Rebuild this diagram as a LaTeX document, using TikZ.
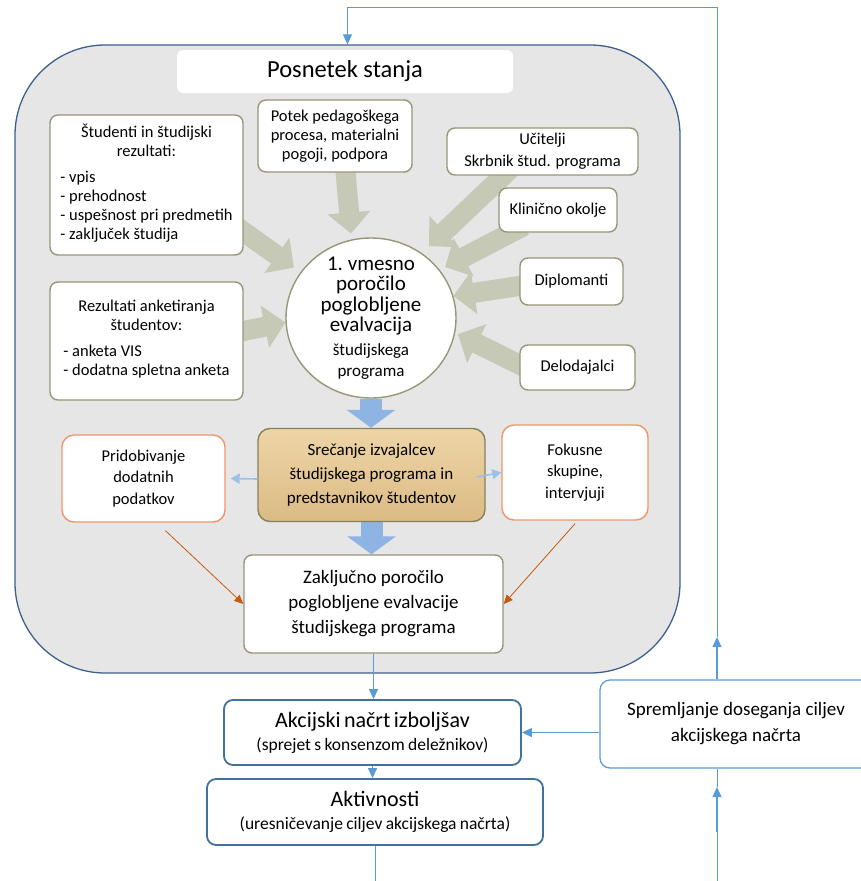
\documentclass[tikz,border=0pt]{standalone}
\usepackage{fontspec}
\setmainfont{Carlito}
\usetikzlibrary{arrows.meta,shapes.geometric}

\definecolor{panelgrey}{RGB}{231,230,230}
\definecolor{panelline}{RGB}{62,96,140}
\definecolor{olive}{RGB}{152,150,120}
\definecolor{feedgrey}{RGB}{198,201,182}
\definecolor{paleblue}{RGB}{142,180,227}
\definecolor{sideblue}{RGB}{155,194,230}
\definecolor{flowblue}{RGB}{91,155,213}
\definecolor{planblue}{RGB}{65,113,156}
\definecolor{orangeline}{RGB}{237,150,105}
\definecolor{rust}{RGB}{197,90,17}
\definecolor{tantop}{RGB}{238,213,167}
\definecolor{tanbot}{RGB}{219,187,132}
\definecolor{tanline}{RGB}{135,128,95}

\newcommand{\fsz}[2]{\fontsize{#1}{#2}\selectfont}

\pgfdeclarelayer{back}
\pgfdeclarelayer{mid}
\pgfsetlayers{back,mid,main}

\tikzset{
  panel/.style={draw=panelline, fill=panelgrey, line width=1.3pt, rounded corners=90pt},
  srcbox/.style={draw=olive, fill=white, line width=1.4pt, rounded corners=8pt,
    align=center, inner sep=0pt, font=\fsz{16.5}{19}},
  orbox/.style={srcbox, draw=orangeline, rounded corners=12pt, font=\fsz{16.5}{21.5}},
  meetbox/.style={srcbox, draw=tanline, rounded corners=12pt, top color=tantop, bottom color=tanbot,
    font=\fsz{17}{24}},
  planbox/.style={draw=planblue, fill=white, line width=1.8pt, rounded corners=9pt,
    align=center, inner sep=0pt},
  feed/.style={draw=feedgrey, line width=20pt, -{Triangle[length=21pt 0 0, width=42pt 0 0]}},
  bigflow/.style={draw=paleblue, line width=22pt, -{Triangle[length=18pt 0 0, width=48pt 0 0]}},
  sidearr/.style={draw=sideblue, line width=1.6pt, -{Triangle[length=9pt 0 0, width=10pt 0 0]}},
  rustarr/.style={draw=rust, line width=0.8pt, -{Triangle[length=9pt 0 0, width=8pt 0 0]}},
  flow/.style={draw=flowblue, line width=1.2pt, -{Triangle[length=10pt 0 0, width=9pt 0 0]}},
  thinflow/.style={draw=flowblue, line width=0.8pt}
}

\begin{document}
\begin{tikzpicture}[x=1pt, y=-1pt]
  \useasboundingbox (0,0) rectangle (860,881);

  \begin{pgfonlayer}{back}
    \node[panel, minimum width=665pt, minimum height=628pt] (stanje) at (347.5,359) {};
  \end{pgfonlayer}

  \node[fill=white, rounded corners=6pt, minimum width=336pt, minimum height=43pt,
    font=\fsz{24.5}{28}] (title) at (345,71.5) {Posnetek stanja};

  % viri podatkov
  \node[srcbox, minimum width=193pt, minimum height=140pt] (stud) at (146.5,185)
    {Študenti in študijski\\ rezultati:\\[7pt]
     \begin{tabular}[t]{@{}l@{}}- vpis\\ - prehodnost\\ - uspešnost pri predmetih\\ - zaključek študija\end{tabular}};
  \node[srcbox, minimum width=193pt, minimum height=118pt] (anket) at (146.5,341)
    {Rezultati anketiranja\\ študentov:\\[7pt]
     \begin{tabular}[t]{@{}l@{}}- anketa VIS\\ - dodatna spletna anketa\end{tabular}};
  \node[srcbox, minimum width=154pt, minimum height=72pt] (potek) at (335,136)
    {Potek pedagoškega\\ procesa, materialni\\ pogoji, podpora};
  \node[srcbox, minimum width=191pt, minimum height=47pt] (ucit) at (542.5,151.5)
    {Učitelji\\[3pt] Skrbnik štud. programa};
  \node[srcbox, minimum width=118pt, minimum height=44pt] (klin) at (558,210) {Klinično okolje};
  \node[srcbox, minimum width=103pt, minimum height=47pt] (dipl) at (571.5,281.5) {Diplomanti};
  \node[srcbox, minimum width=115pt, minimum height=45pt] (delo) at (577.5,367.5) {Delodajalci};

  \node[ellipse, draw=olive, fill=white, line width=1.4pt, inner sep=0pt,
    minimum width=170pt, minimum height=160pt] (circ) at (371,318) {};
  \node[text width=160pt, align=center, inner sep=0pt] (circtxt) at (371,318)
    {\fsz{21}{20.5}1. vmesno\\ poročilo\\ poglobljene\\ evalvacija\par\vspace{3pt}
     \fsz{17}{21}študijskega\\ programa\par};

  % srecanje
  \node[meetbox, minimum width=227pt, minimum height=93pt] (sre) at (371.5,475)
    {Srečanje izvajalcev\\ študijskega programa in\\ predstavnikov študentov};
  \node[orbox, minimum width=163pt, minimum height=87pt] (prid) at (143.5,478.5)
    {Pridobivanje\\ dodatnih\\ podatkov};
  \node[orbox, minimum width=146pt, minimum height=95pt] (fok) at (575,472.5)
    {Fokusne\\ skupine,\\ intervjuji};
  \node[srcbox, minimum width=259pt, minimum height=98pt, font=\fsz{19}{25}] (zak) at (373.5,604)
    {Zaključno poročilo\\ poglobljene evalvacije\\ študijskega programa};

  % akcijski nacrt
  \node[planbox, minimum width=297pt, minimum height=65pt, text width=290pt] (akc) at (372.5,732.5)
    {\fsz{22}{24}Akcijski načrt izboljšav\par\fsz{17.5}{23}(sprejet s konsenzom deležnikov)\par};
  \node[planbox, minimum width=336pt, minimum height=66pt, text width=330pt] (akt) at (375,812)
    {\fsz{22}{24}Aktivnosti\par\fsz{17.5}{23}(uresničevanje ciljev akcijskega načrta)\par};
  \node[draw=flowblue, fill=white, line width=1.3pt, rounded corners=10pt, align=center,
    inner sep=0pt, minimum width=272pt, minimum height=88pt, font=\fsz{19}{26}] (sprem) at (736,724)
    {Spremljanje doseganja ciljev\\ akcijskega načrta};

  \coordinate (g1) at ([xshift=-10pt,yshift=31pt]stud.south east);
  \coordinate (g2) at ([xshift=-10pt,yshift=8pt]anket.east);
  \coordinate (g3) at ([xshift=10pt,yshift=7pt]potek.south);
  \coordinate (g4) at ([xshift=-32pt,yshift=7pt]ucit.south);
  \coordinate (g5) at ([xshift=26pt,yshift=7pt]klin.south west);
  \coordinate (g6) at ([xshift=10pt,yshift=-3pt]dipl.west);
  \coordinate (g7) at ([xshift=10pt,yshift=-2pt]delo.west);

  \begin{pgfonlayer}{mid}
    \foreach \g/\a/\s in {g1/147/8, g2/183/0, g3/104/6, g4/52/10, g5/35/6, g6/15/0, g7/350/3}
      \draw[feed, shorten >=\s pt] (\g) -- (circ.\a);
    \draw[bigflow] (circ.south) -- (circ.south |- sre.north);
    \draw[bigflow] (sre.south) -- (sre.south |- zak.north);
  \end{pgfonlayer}

  \draw[sidearr] ([yshift=-4pt]sre.west) -- ([xshift=5pt]prid.east);
  \draw[sidearr] ([xshift=-9pt,yshift=-2pt]sre.east) -- (fok.west);
  \draw[rustarr] ([xshift=22pt,yshift=-8pt]prid.south) -- (zak.west);
  \draw[rustarr] ([yshift=-3pt]fok.south) -- (zak.east);

  \draw[flow] (zak.south) -- (zak.south |- akc.north);
  \draw[flow] (akc.south) -- (akc.south |- akt.north);
  \draw[flow] (sprem.west |- akc.east) -- (akc.east);

  % povratna zanka
  \coordinate (foot) at (717,881);
  \coordinate (lowtail) at (717,832);
  \coordinate (lowtip) at (717,787);
  \coordinate (uptip) at (717,637);
  \draw[thinflow] (akt.south) -- (akt.south |- foot);
  \draw[thinflow] (foot) -- (lowtail);
  \draw[flow] (lowtail) -- (lowtip);
  \draw[thinflow] (lowtip) -- (sprem.south -| lowtip);
  \draw[flow] (sprem.north -| uptip) -- (uptip);
  \draw[thinflow, -{Triangle[length=10pt 0 0, width=9pt 0 0]}] (uptip) |- ([yshift=37pt]stanje.north) -- (stanje.north);
\end{tikzpicture}
\end{document}
